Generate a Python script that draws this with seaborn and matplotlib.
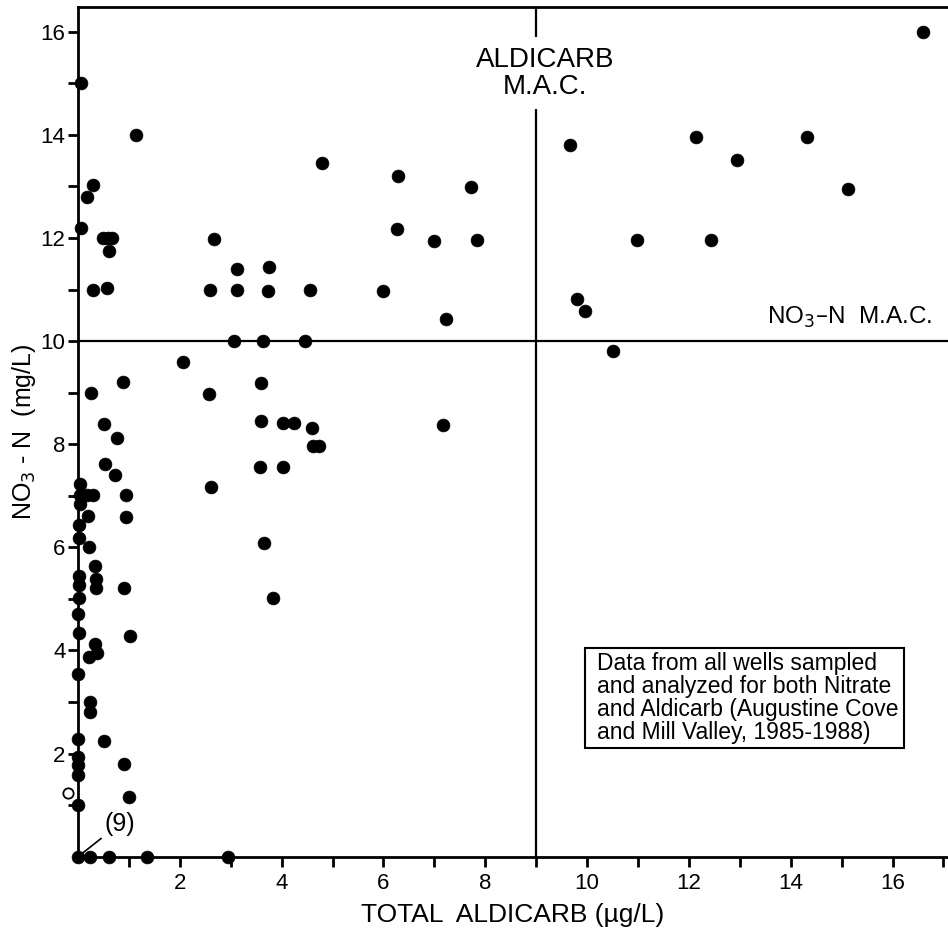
import pandas as pd
import matplotlib.pyplot as plt
import seaborn as sns
from matplotlib.patches import Rectangle

# --- datos (aldicarb total µg/L, NO3-N mg/L) ---
aldicarb = [
    0.05, 1.13, 0.29, 0.17, 0.05, 0.50, 0.58, 0.67, 0.61, 0.29, 0.56,
    2.67, 3.12, 3.75, 2.59, 3.12, 3.73, 4.56, 4.79, 6.29, 7.72, 6.27, 7.00, 7.84, 5.99, 7.22,
    3.06, 3.64, 4.46, 2.07, 3.60, 2.57, 3.59, 4.03, 4.25, 4.60, 4.62, 4.74, 7.17, 3.58, 4.03, 2.61,
    0.26, 0.89, 0.51, 0.77, 0.53, 0.73, 0.94, 0.94, 3.66, 3.84,
    0.04, 0.04, 0.17, 0.30, 0.04, 0.20, 0.02, 0.02, 0.22, 0.33, 0.02, 0.35, 0.35, 0.02, 0.91,
    0.02, 0.00, 0.02, 1.02, 0.33, 0.38, 0.22, 0.00, 0.24, 0.24, 0.00, 0.52, 0.00, 0.00, 0.00,
    0.90, 1.00, 0.00,
    0.00, 0.24, 0.61, 1.35, 2.94,
    16.59, 9.67, 12.14, 14.32, 12.94, 15.12, 10.98, 12.44, 9.80, 9.96, 10.50,
]
nitrato = [
    15.00, 14.00, 13.03, 12.80, 12.20, 12.00, 12.00, 12.00, 11.75, 11.00, 11.04,
    11.99, 11.40, 11.43, 11.00, 10.99, 10.97, 10.99, 13.45, 13.20, 12.99, 12.18, 11.95, 11.97, 10.97, 10.42,
    10.00, 10.00, 10.00, 9.59, 9.19, 8.97, 8.46, 8.41, 8.41, 8.32, 7.97, 7.97, 8.37, 7.55, 7.56, 7.18,
    8.99, 9.21, 8.39, 8.13, 7.61, 7.41, 7.02, 6.58, 6.09, 5.02,
    7.22, 7.02, 7.02, 7.02, 6.85, 6.61, 6.43, 6.19, 6.01, 5.64, 5.44, 5.38, 5.22, 5.27, 5.22,
    5.02, 4.70, 4.33, 4.29, 4.13, 3.96, 3.88, 3.54, 3.01, 2.81, 2.28, 2.24, 1.94, 1.78, 1.58,
    1.79, 1.16, 1.00,
    0.00, 0.00, 0.00, 0.00, 0.00,
    15.99, 13.80, 13.96, 13.96, 13.51, 12.95, 11.97, 11.96, 10.82, 10.58, 9.81,
]
# punto hueco a la izquierda del eje
aldicarb_hueco = [-0.2]
nitrato_hueco = [1.23]

ALDICARB_MAC = 9
NITRATO_MAC = 10
x_ticks = [2, 4, 6, 8, 10, 12, 14, 16]
y_ticks = [2, 4, 6, 8, 10, 12, 14, 16]

df = pd.DataFrame({"aldicarb": aldicarb, "nitrato": nitrato})

sns.set_style("ticks")
plt.rcParams["font.family"] = ["Liberation Sans", "DejaVu Sans"]
plt.rcParams["text.color"] = "black"
plt.rcParams["axes.labelcolor"] = "black"
plt.rcParams["xtick.color"] = "black"
plt.rcParams["ytick.color"] = "black"

fig = plt.figure(figsize=(9.48, 9.36), dpi=100)
ax = fig.add_axes([0.0823, 0.0847, 0.9177, 0.9078])

sns.scatterplot(data=df, x="aldicarb", y="nitrato", ax=ax, color="black",
                edgecolor="black", s=85, linewidth=0.5, clip_on=False, zorder=5)
ax.scatter(aldicarb_hueco, nitrato_hueco, s=55, facecolor="white", edgecolor="black",
           linewidth=1.3, clip_on=False, zorder=5)

# límites máximos aceptables
ax.axvline(ALDICARB_MAC, color="black", lw=1.6, zorder=1)
ax.axhline(NITRATO_MAC, color="black", lw=1.6, zorder=1)

ax.set_xlim(0, 17.09)
ax.set_ylim(0, 16.48)
ax.set_xticks(x_ticks)
ax.set_yticks(y_ticks)
ax.set_xticks(range(1, 18, 2), minor=True)
ax.set_yticks(range(1, 17, 2), minor=True)
ax.tick_params(which="both", direction="out", length=7, width=2, color="black")
ax.tick_params(axis="x", labelsize=16, pad=5)
ax.tick_params(axis="y", labelsize=16, pad=2)

for s in ["left", "bottom", "top"]:
    ax.spines[s].set_linewidth(2)
    ax.spines[s].set_color("black")
ax.spines["right"].set_visible(False)

ax.set_xlabel("TOTAL  ALDICARB (µg/L)", fontsize=19, labelpad=6)
ax.set_ylabel(r"NO$_3$ - N  (mg/L)", fontsize=18, labelpad=2)

ax.text(9.17, 15.2, "ALDICARB\nM.A.C.", ha="center", va="center", fontsize=20,
        linespacing=1.05, zorder=3,
        bbox=dict(facecolor="white", edgecolor="none", pad=7))
ax.text(16.78, 10.22, r"NO$_3$–N  M.A.C.", ha="right", va="bottom", fontsize=17.5)

# anotación de los 9 pozos en el origen
ax.annotate("(9)", xy=(0, 0), xytext=(0.82, 0.64), fontsize=18, ha="center", va="center",
            arrowprops=dict(arrowstyle="-", color="black", lw=1.2, shrinkA=0, shrinkB=0))

ax.add_patch(Rectangle((9.96, 2.11), 6.27, 1.94, facecolor="white", edgecolor="black",
                       lw=1.5, zorder=4))
ax.text(10.2, 3.08, "Data from all wells sampled\nand analyzed for both Nitrate\n"
        "and Aldicarb (Augustine Cove\nand Mill Valley, 1985-1988)",
        ha="left", va="center", fontsize=16.5, linespacing=1.0, zorder=6)

fig.savefig("out.png", dpi=100)
plt.close()
